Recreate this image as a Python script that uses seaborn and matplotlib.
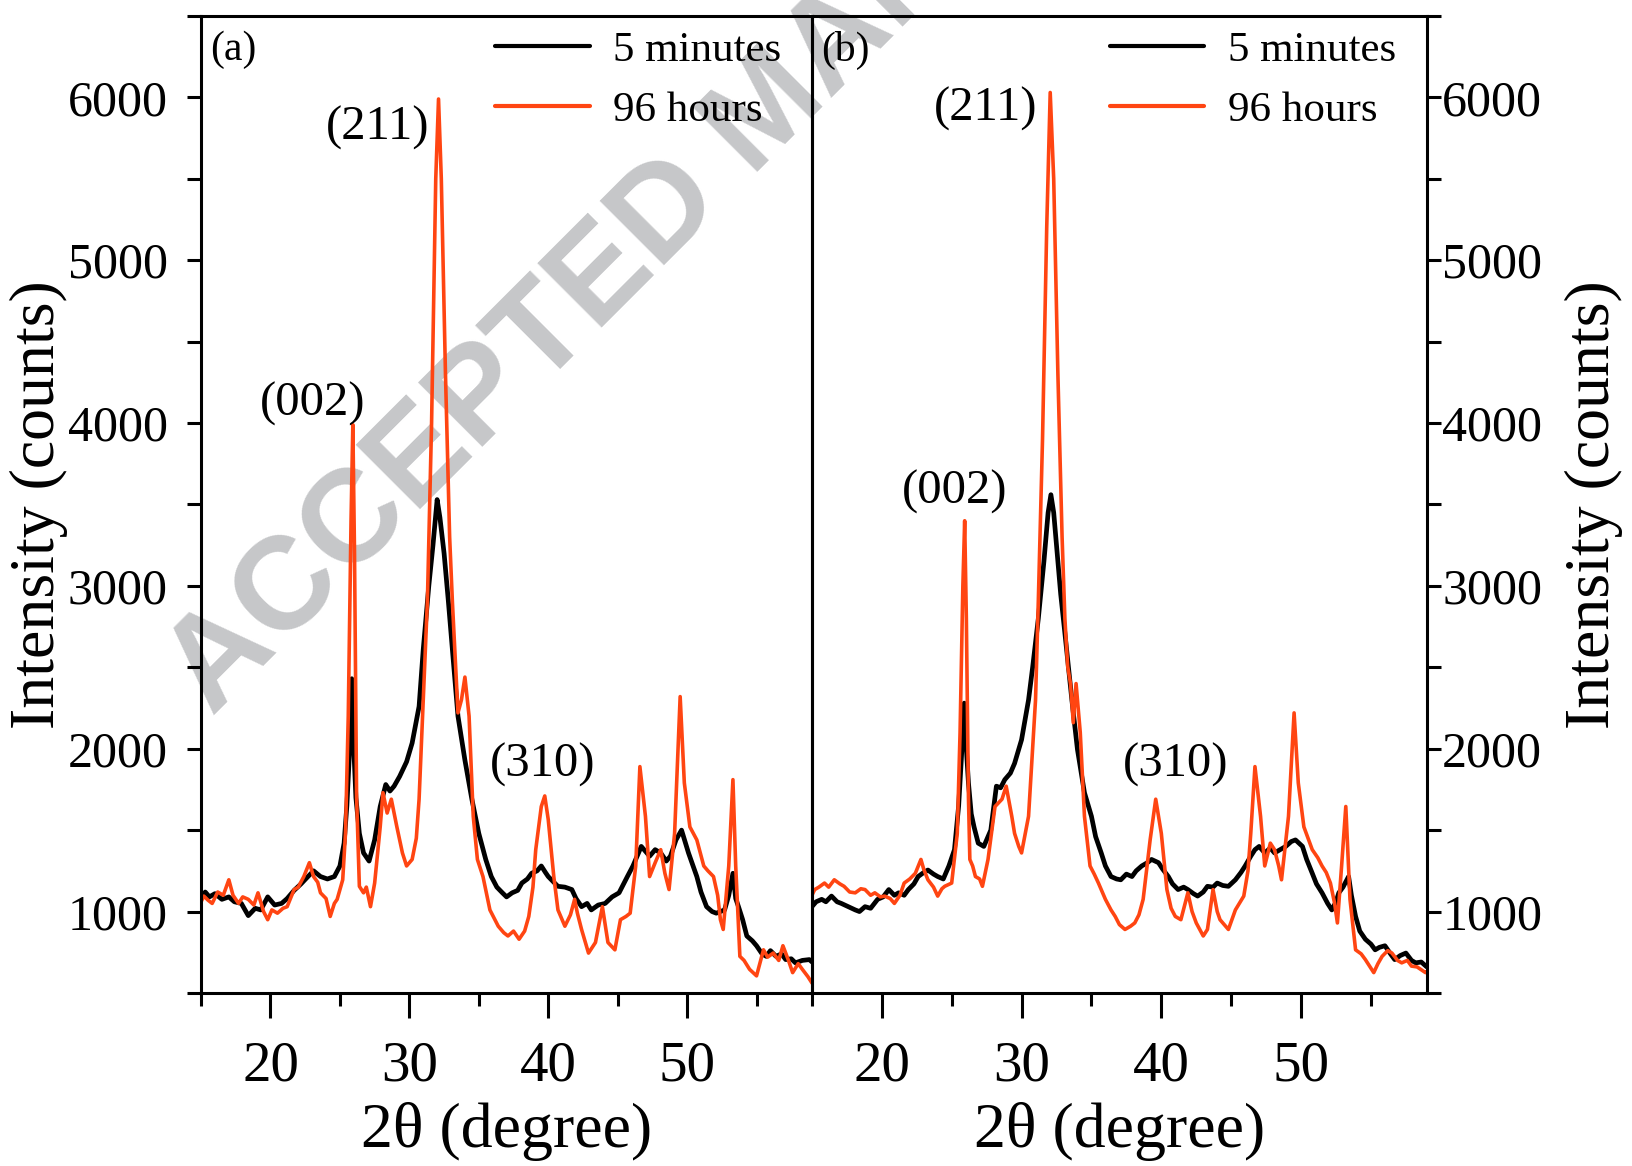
import numpy as np
import pandas as pd
import matplotlib
matplotlib.use("Agg")
import matplotlib.pyplot as plt
import seaborn as sns
from matplotlib.ticker import MultipleLocator

# ---------------- data ----------------
a_x_5min = [15.0, 15.3, 15.6, 16.0, 16.5, 17.0, 17.4, 17.9, 18.4, 18.9, 19.3, 19.8, 20.3, 20.8, 21.2, 21.7,
            22.2, 22.7, 23.1, 23.6, 24.1, 24.6, 25.0, 25.3, 25.5, 25.7, 25.85, 26.0, 26.15, 26.4, 26.7, 27.1,
            27.5, 27.9, 28.3, 28.6, 28.9, 29.3, 29.8, 30.2, 30.7, 31.0, 31.4, 31.7, 32.0, 32.2, 32.5, 32.8,
            33.2, 33.5, 34.0, 34.5, 35.0, 35.5, 35.9, 36.3, 36.7, 37.0, 37.4, 37.8, 38.1, 38.5, 38.8, 39.2,
            39.5, 39.8, 40.0, 40.4, 40.7, 41.2, 41.7, 42.0, 42.4, 42.8, 43.1, 43.6, 44.1, 44.6, 45.1, 45.7,
            46.1, 46.7, 47.0, 47.3, 47.7, 48.1, 48.5, 48.8, 49.2, 49.6, 50.1, 50.7, 51.0, 51.4, 51.8, 52.1,
            52.7, 53.0, 53.3, 53.5, 53.7, 54.0, 54.3, 54.7, 55.0, 55.4, 55.7, 56.0, 56.4, 56.8, 57.1, 57.5,
            57.8, 58.3, 58.8, 59.0]
a_y_5min = [1080, 1120, 1090, 1110, 1075, 1090, 1060, 1050, 975, 1020, 1010, 1090, 1040, 1050, 1080, 1130,
            1170, 1215, 1250, 1215, 1200, 1215, 1280, 1420, 1650, 2000, 2430, 2000, 1700, 1480, 1360, 1310,
            1440, 1645, 1780, 1740, 1770, 1830, 1920, 2035, 2260, 2610, 3000, 3250, 3530, 3420, 3200, 2914,
            2505, 2200, 1930, 1690, 1480, 1320, 1215, 1150, 1115, 1090, 1115, 1130, 1175, 1200, 1235, 1250,
            1280, 1240, 1215, 1180, 1155, 1150, 1135, 1080, 1030, 1050, 1010, 1040, 1050, 1090, 1115, 1215,
            1280, 1400, 1370, 1340, 1380, 1360, 1310, 1340, 1440, 1500, 1360, 1215, 1120, 1030, 1000, 990,
            1010, 1100, 1235, 1080, 1030, 950, 850, 820, 790, 740, 725, 760, 725, 740, 705, 710,
            685, 700, 705, 690]

a_x_96h = [15.0, 15.2, 15.5, 15.8, 16.2, 16.6, 17.0, 17.3, 17.7, 18.0, 18.4, 18.8, 19.1, 19.5, 19.8, 20.1,
           20.5, 20.9, 21.2, 21.7, 22.0, 22.4, 22.8, 23.1, 23.4, 23.6, 24.0, 24.3, 24.6, 24.8, 25.2, 25.4,
           25.6, 25.8, 25.93, 26.05, 26.2, 26.4, 26.7, 26.9, 27.2, 27.5, 27.9, 28.1, 28.4, 28.7, 29.1, 29.5,
           29.8, 30.2, 30.5, 30.7, 31.0, 31.3, 31.6, 31.9, 32.1, 32.3, 32.6, 32.9, 33.1, 33.5, 33.75, 34.0,
           34.3, 34.6, 34.9, 35.3, 35.8, 36.1, 36.4, 36.8, 37.1, 37.5, 37.9, 38.3, 38.6, 38.9, 39.1, 39.5,
           39.75, 40.0, 40.4, 40.7, 41.2, 41.6, 41.9, 42.1, 42.4, 42.9, 43.4, 43.9, 44.3, 44.8, 45.2, 45.6,
           45.9, 46.3, 46.6, 47.0, 47.3, 47.7, 48.1, 48.4, 48.7, 49.1, 49.5, 49.8, 50.2, 50.7, 51.2, 51.5,
           51.9, 52.2, 52.4, 52.6, 53.0, 53.3, 53.5, 53.8, 54.1, 54.5, 55.0, 55.5, 55.8, 56.2, 56.6, 56.9,
           57.3, 57.6, 58.0, 58.3, 58.7, 59.0]
a_y_96h = [1060, 1095, 1070, 1050, 1120, 1100, 1195, 1100, 1050, 1090, 1075, 1040, 1115, 1000, 950, 1010,
           990, 1020, 1030, 1135, 1150, 1215, 1300, 1215, 1180, 1115, 1080, 970, 1050, 1075, 1195, 1480,
           2200, 3400, 3990, 3200, 1700, 1155, 1115, 1150, 1030, 1175, 1520, 1730, 1605, 1690, 1520, 1360,
           1280, 1320, 1450, 1690, 2300, 2910, 4000, 5500, 5990, 5500, 4300, 3300, 2900, 2220, 2300, 2440,
           2200, 1585, 1320, 1215, 1010, 960, 910, 870, 850, 880, 830, 880, 970, 1150, 1380, 1645,
           1710, 1565, 1215, 1010, 910, 980, 1075, 990, 890, 745, 810, 1030, 810, 765, 950, 970,
           990, 1280, 1890, 1585, 1215, 1300, 1380, 1235, 1135, 1480, 2320, 1790, 1520, 1440, 1280, 1250,
           1215, 1100, 950, 890, 1280, 1810, 1280, 725, 700, 645, 605, 765, 720, 745, 700, 790,
           700, 625, 680, 645, 600, 560]

b_x_5min = [15.0, 15.3, 15.7, 16.0, 16.4, 16.8, 17.1, 17.6, 18.1, 18.4, 18.8, 19.2, 19.7, 20.1, 20.5, 20.9,
            21.2, 21.6, 21.9, 22.3, 22.6, 23.0, 23.3, 23.7, 24.0, 24.4, 24.8, 25.2, 25.5, 25.7, 25.9, 26.05,
            26.2, 26.4, 26.6, 26.9, 27.3, 27.8, 28.2, 28.5, 28.8, 29.2, 29.5, 30.0, 30.5, 30.8, 31.2, 31.6,
            31.9, 32.1, 32.3, 32.6, 32.8, 33.1, 33.6, 34.0, 34.5, 35.0, 35.3, 35.7, 36.0, 36.4, 36.8, 37.1,
            37.5, 37.9, 38.2, 38.6, 39.0, 39.3, 39.8, 40.1, 40.5, 40.8, 41.2, 41.6, 41.9, 42.3, 42.6, 43.0,
            43.3, 43.7, 44.0, 44.4, 44.8, 45.3, 45.7, 46.0, 46.4, 46.7, 47.0, 47.4, 47.8, 48.1, 48.5, 48.9,
            49.3, 49.6, 50.1, 50.4, 50.8, 51.1, 51.5, 51.9, 52.2, 52.5, 52.7, 53.0, 53.4, 53.6, 53.9, 54.2,
            54.6, 55.0, 55.3, 55.6, 56.0, 56.4, 56.7, 57.1, 57.5, 57.9, 58.2, 58.6, 59.0]
b_y_5min = [1030, 1060, 1075, 1060, 1095, 1060, 1050, 1030, 1010, 1000, 1030, 1020, 1075, 1090, 1135, 1100,
            1115, 1100, 1135, 1170, 1215, 1240, 1255, 1230, 1215, 1200, 1280, 1380, 1650, 1950, 2280, 2000,
            1790, 1600, 1520, 1420, 1400, 1500, 1770, 1760, 1810, 1850, 1910, 2055, 2300, 2505, 2800, 3150,
            3450, 3560, 3450, 3150, 2950, 2710, 2300, 1995, 1730, 1585, 1460, 1360, 1280, 1215, 1200, 1195,
            1230, 1215, 1250, 1280, 1300, 1320, 1300, 1260, 1215, 1170, 1135, 1150, 1135, 1110, 1095, 1120,
            1155, 1150, 1175, 1160, 1155, 1195, 1240, 1280, 1340, 1380, 1400, 1360, 1390, 1360, 1380, 1400,
            1430, 1440, 1400, 1320, 1235, 1170, 1115, 1050, 1010, 1060, 1115, 1150, 1215, 1100, 970, 880,
            830, 800, 765, 780, 790, 740, 705, 730, 745, 700, 685, 690, 660]

b_x_96h = [15.0, 15.2, 15.5, 15.9, 16.2, 16.6, 17.0, 17.3, 17.7, 18.1, 18.5, 18.8, 19.2, 19.5, 19.9, 20.2,
           20.6, 20.9, 21.3, 21.6, 22.0, 22.4, 22.8, 23.0, 23.3, 23.7, 24.0, 24.3, 24.5, 25.0, 25.4, 25.6,
           25.8, 25.93, 26.05, 26.2, 26.3, 26.5, 26.7, 27.0, 27.2, 27.6, 28.1, 28.6, 28.9, 29.3, 29.5, 29.8,
           30.0, 30.5, 31.0, 31.2, 31.5, 31.8, 32.05, 32.3, 32.6, 32.9, 33.1, 33.3, 33.5, 33.7, 33.9, 34.2,
           34.5, 34.9, 35.2, 35.5, 36.0, 36.4, 36.7, 37.0, 37.4, 37.8, 38.1, 38.4, 38.7, 39.2, 39.6, 40.0,
           40.4, 40.7, 41.0, 41.4, 41.9, 42.2, 42.5, 43.0, 43.3, 43.7, 44.0, 44.2, 44.8, 45.3, 45.9, 46.2,
           46.4, 46.7, 47.1, 47.4, 47.8, 48.1, 48.4, 48.6, 49.1, 49.5, 49.8, 50.2, 50.5, 50.8, 51.2, 51.5,
           51.8, 52.1, 52.4, 52.6, 52.9, 53.2, 53.5, 53.9, 54.3, 54.6, 55.2, 55.5, 55.8, 56.2, 56.5, 56.9,
           57.2, 57.6, 57.9, 58.3, 58.9, 59.0]
b_y_96h = [1100, 1135, 1150, 1175, 1150, 1195, 1170, 1155, 1120, 1115, 1140, 1135, 1100, 1115, 1090, 1095,
           1080, 1050, 1100, 1175, 1200, 1235, 1320, 1260, 1195, 1150, 1095, 1140, 1155, 1175, 1480, 2100,
           3000, 3400, 2800, 1700, 1320, 1280, 1215, 1200, 1155, 1320, 1645, 1690, 1770, 1585, 1480, 1400,
           1360, 1585, 2300, 2910, 3900, 5200, 6030, 5500, 4300, 3300, 2800, 2505, 2400, 2160, 2400, 2100,
           1585, 1280, 1230, 1175, 1075, 1010, 970, 920, 890, 910, 930, 980, 1075, 1440, 1690, 1480,
           1135, 1020, 970, 950, 1115, 1000, 930, 850, 890, 1135, 1000, 950, 890, 1010, 1095, 1250,
           1480, 1890, 1585, 1280, 1420, 1380, 1280, 1195, 1585, 2220, 1790, 1520, 1450, 1380, 1330, 1280,
           1240, 1175, 1050, 930, 1280, 1645, 1075, 765, 740, 705, 625, 680, 725, 760, 745, 700,
           685, 700, 665, 660, 625, 630]

series_labels = ["5 minutes", "96 hours"]
panel_labels = ["(a)", "(b)"]
peak_labels = ["(002)", "(211)", "(310)"]
a_peak_pos = [(23.0, 4120), (27.7, 5810), (39.6, 1900)]
b_peak_pos = [(25.2, 3580), (27.4, 5930), (41.0, 1900)]
y_ticks = [1000, 2000, 3000, 4000, 5000, 6000]
x_ticks = [20, 30, 40, 50]

# ---------------- style ----------------
sns.set_theme(style="ticks")
plt.rcParams["font.family"] = ["Liberation Serif", "DejaVu Serif"]
plt.rcParams["axes.linewidth"] = 2.2
for k in ["text.color", "axes.labelcolor", "xtick.color", "ytick.color", "axes.edgecolor"]:
    plt.rcParams[k] = "black"

colors = {"5 minutes": "#000000", "96 hours": "#FF4512"}
widths = {"5 minutes": 3.4, "96 hours": 2.6}

fig = plt.figure(figsize=(16.32, 11.66), dpi=100)
axA = fig.add_axes([0.1232, 0.1484, 0.3744, 0.8379])
axB = fig.add_axes([0.4975, 0.1484, 0.3768, 0.8379])

# watermark behind the data
fig.text(0.130, 0.385, "ACCEPTED MANUSCRIPT", rotation=45, rotation_mode="anchor",
         ha="left", va="baseline", fontsize=95, fontweight="bold",
         family="Liberation Sans", color="#C6C7C9", zorder=-5)

panels = [
    (axA, a_x_5min, a_y_5min, a_x_96h, a_y_96h, a_peak_pos, "(a)", "left"),
    (axB, b_x_5min, b_y_5min, b_x_96h, b_y_96h, b_peak_pos, "(b)", "right"),
]

for ax, x5, y5, x96, y96, ppos, plab, side in panels:
    ax.set_facecolor("none")
    df = pd.concat([
        pd.DataFrame({"x": x5, "y": y5, "s": "5 minutes"}),
        pd.DataFrame({"x": x96, "y": y96, "s": "96 hours"}),
    ], ignore_index=True)
    for s in series_labels:
        sub = df[df["s"] == s]
        sns.lineplot(data=sub, x="x", y="y", ax=ax, color=colors[s], lw=widths[s],
                     estimator=None, sort=False, label=s)
    ax.set_xlim(15, 59)
    ax.set_ylim(500, 6500)
    ax.set_xticks(x_ticks)
    ax.xaxis.set_minor_locator(MultipleLocator(5))
    ax.set_yticks(y_ticks)
    ax.yaxis.set_minor_locator(MultipleLocator(500))
    ax.tick_params(axis="x", which="major", direction="out", length=18, width=2.2,
                   labelsize=41, pad=16)
    ax.tick_params(axis="x", which="minor", direction="out", length=9.5, width=2.2)
    ax.tick_params(axis="y", which="both", direction="out", length=10, width=2.2,
                   labelsize=36)
    if side == "left":
        ax.tick_params(axis="y", which="both", left=True, right=False, pad=14)
    else:
        ax.yaxis.tick_right()
        ax.yaxis.set_label_position("right")
        ax.tick_params(axis="y", which="both", left=False, right=True, pad=1)
    for sp in ax.spines.values():
        sp.set_visible(True)
        sp.set_linewidth(2.2)
        sp.set_color("black")
    ax.set_xlabel("2θ (degree)", fontsize=46, labelpad=7)
    ax.text(0.015, 0.985, plab, transform=ax.transAxes, ha="left", va="top", fontsize=30)
    for lab, (px, py) in zip(peak_labels, ppos):
        ax.text(px, py, lab, ha="center", va="center", fontsize=35)
    leg = ax.legend(loc="upper right", bbox_to_anchor=(0.985, 1.007), frameon=False,
                    fontsize=31, handlelength=2.2, handletextpad=0.55, labelspacing=0.5,
                    borderaxespad=0.1)
    for line in leg.get_lines():
        line.set_linewidth(3)

axA.set_ylabel("Intensity (counts)", fontsize=46, labelpad=0)
axB.set_ylabel("Intensity (counts)", fontsize=46, labelpad=16, rotation=90)

fig.savefig("out.png", dpi=100)
